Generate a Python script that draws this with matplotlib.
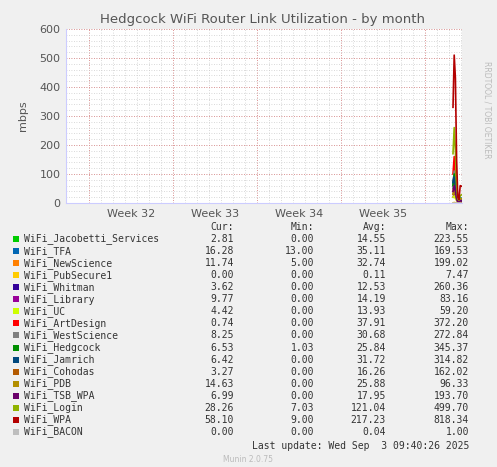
import matplotlib
matplotlib.use("Agg")
import matplotlib.pyplot as plt
import numpy as np

names = ["WiFi_Jacobetti_Services","WiFi_TFA","WiFi_NewScience","WiFi_PubSecure1","WiFi_Whitman",
         "WiFi_Library","WiFi_UC","WiFi_ArtDesign","WiFi_WestScience","WiFi_Hedgcock","WiFi_Jamrich",
         "WiFi_Cohodas","WiFi_PDB","WiFi_TSB_WPA","WiFi_Login","WiFi_WPA","WiFi_BACON"]
colors = ["#00cc00","#0066b3","#ff8000","#ffcc00","#330099","#990099","#ccff00","#ff0000",
          "#808080","#008f00","#00487d","#b35a00","#b38f00","#6b006b","#8fb300","#b30000","#bebebe"]
cur = ["2.81","16.28","11.74","0.00","3.62","9.77","4.42","0.74","8.25","6.53","6.42","3.27","14.63","6.99","28.26","58.10","0.00"]
mn  = ["0.00","13.00","5.00","0.00","0.00","0.00","0.00","0.00","0.00","1.03","0.00","0.00","0.00","0.00","7.03","9.00","0.00"]
avg = ["14.55","35.11","32.74","0.11","12.53","14.19","13.93","37.91","30.68","25.84","31.72","16.26","25.88","17.95","121.04","217.23","0.04"]
mx  = ["223.55","169.53","199.02","7.47","260.36","83.16","59.20","372.20","272.84","345.37","314.82","162.02","96.33","193.70","499.70","818.34","1.00"]

# sample times (days from left edge of graph)
t = [32.25, 32.35, 32.45, 32.55, 32.65, 32.75, 32.85, 32.95]
series = [
    [60, 90, 40, 15, 5, 3, 8, 3],      # Jacobetti
    [50, 80, 60, 30, 15, 14, 20, 16],  # TFA
    [40, 70, 50, 25, 10, 6, 15, 12],   # NewScience
    [0, 2, 1, 0, 0, 0, 0, 0],          # PubSecure1
    [70, 100, 60, 20, 5, 3, 6, 4],     # Whitman
    [20, 30, 20, 10, 5, 4, 10, 10],    # Library
    [20, 25, 15, 10, 5, 3, 5, 4],      # UC
    [100, 160, 90, 30, 5, 2, 3, 1],    # ArtDesign
    [60, 110, 70, 25, 8, 5, 10, 8],    # WestScience
    [60, 100, 60, 25, 8, 5, 8, 7],     # Hedgcock
    [70, 90, 60, 20, 8, 5, 8, 6],      # Jamrich
    [30, 50, 30, 15, 5, 3, 5, 3],      # Cohodas
    [30, 40, 30, 20, 10, 8, 15, 15],   # PDB
    [40, 60, 40, 15, 5, 4, 8, 7],      # TSB_WPA
    [170, 260, 180, 60, 15, 10, 25, 28],  # Login
    [330, 510, 430, 150, 20, 12, 60, 58], # WPA
    [0, 0, 0, 0, 0, 0, 0, 0],          # BACON
]
week_labels = ["Week 32", "Week 33", "Week 34", "Week 35"]

W, H = 497, 467
fig = plt.figure(figsize=(W/100, H/100), dpi=100, facecolor="#f0f0f0")
ax = fig.add_axes([66/W, 1-203/H, 396/W, 174/H], facecolor="white")
ax.set_xlim(0, 33)
ax.set_ylim(0, 600)
for i in range(len(series)):
    ax.plot(t, series[i], color=colors[i], lw=1.2, zorder=3)

for d in np.arange(23/12, 33, 1):
    ax.axvline(d, color="#cccccc", lw=0.6, ls=(0, (1, 2)), zorder=1)
for d in np.arange(23/12, 33, 7):
    ax.axvline(d, color="#e08080", lw=0.6, ls=(0, (1, 2)), zorder=1)
for y in range(0, 601, 20):
    ax.axhline(y, color="#cccccc", lw=0.6, ls=(0, (1, 2)), zorder=1)
for y in range(100, 601, 100):
    ax.axhline(y, color="#e08080", lw=0.6, ls=(0, (1, 2)), zorder=1)

ax.set_yticks(range(0, 601, 100))
ax.set_xticks([23/12 + 3.5 + 7*k for k in range(4)])
ax.set_xticklabels(week_labels)
ax.tick_params(length=0, labelsize=8, colors="#555555", pad=4)
for s in ["top", "right"]:
    ax.spines[s].set_visible(False)
ax.spines["left"].set_color("#ccccff")
ax.spines["bottom"].set_color("#ccccff")
ax.set_ylabel("mbps", fontsize=8, color="#555555", labelpad=8)
fig.text(262/W, 1-19/H, "Hedgcock WiFi Router Link Utilization - by month", ha="center", va="center",
         fontsize=9.5, color="#555555")
fig.text(487/W, 1-110/H, "RRDTOOL / TOBI OETIKER", rotation=270, ha="center", va="center",
         fontsize=5.5, color="#bbbbbb")

mono = dict(family="DejaVu Sans Mono", fontsize=7, color="#333333", va="center")
y0 = 227
fig.text(234/W, 1-y0/H, "Cur:", ha="right", **mono)
fig.text(314/W, 1-y0/H, "Min:", ha="right", **mono)
fig.text(386/W, 1-y0/H, "Avg:", ha="right", **mono)
fig.text(469/W, 1-y0/H, "Max:", ha="right", **mono)
for i, n in enumerate(names):
    y = 239 + i*12.06
    fig.patches.append(plt.Rectangle((13/W, 1-(y+3)/H), 6/W, 6/H, transform=fig.transFigure,
                                     facecolor=colors[i], edgecolor="none"))
    fig.text(24/W, 1-y/H, n, ha="left", **mono)
    fig.text(234/W, 1-y/H, cur[i], ha="right", **mono)
    fig.text(314/W, 1-y/H, mn[i], ha="right", **mono)
    fig.text(386/W, 1-y/H, avg[i], ha="right", **mono)
    fig.text(469/W, 1-y/H, mx[i], ha="right", **mono)
fig.text(469/W, 1-446/H, "Last update: Wed Sep  3 09:40:26 2025", ha="right", **mono)
fig.text(248/W, 1-460/H, "Munin 2.0.75", ha="center", va="center", fontsize=5.5, color="#bbbbbb")
fig.savefig("out.png", dpi=100, facecolor=fig.get_facecolor())
